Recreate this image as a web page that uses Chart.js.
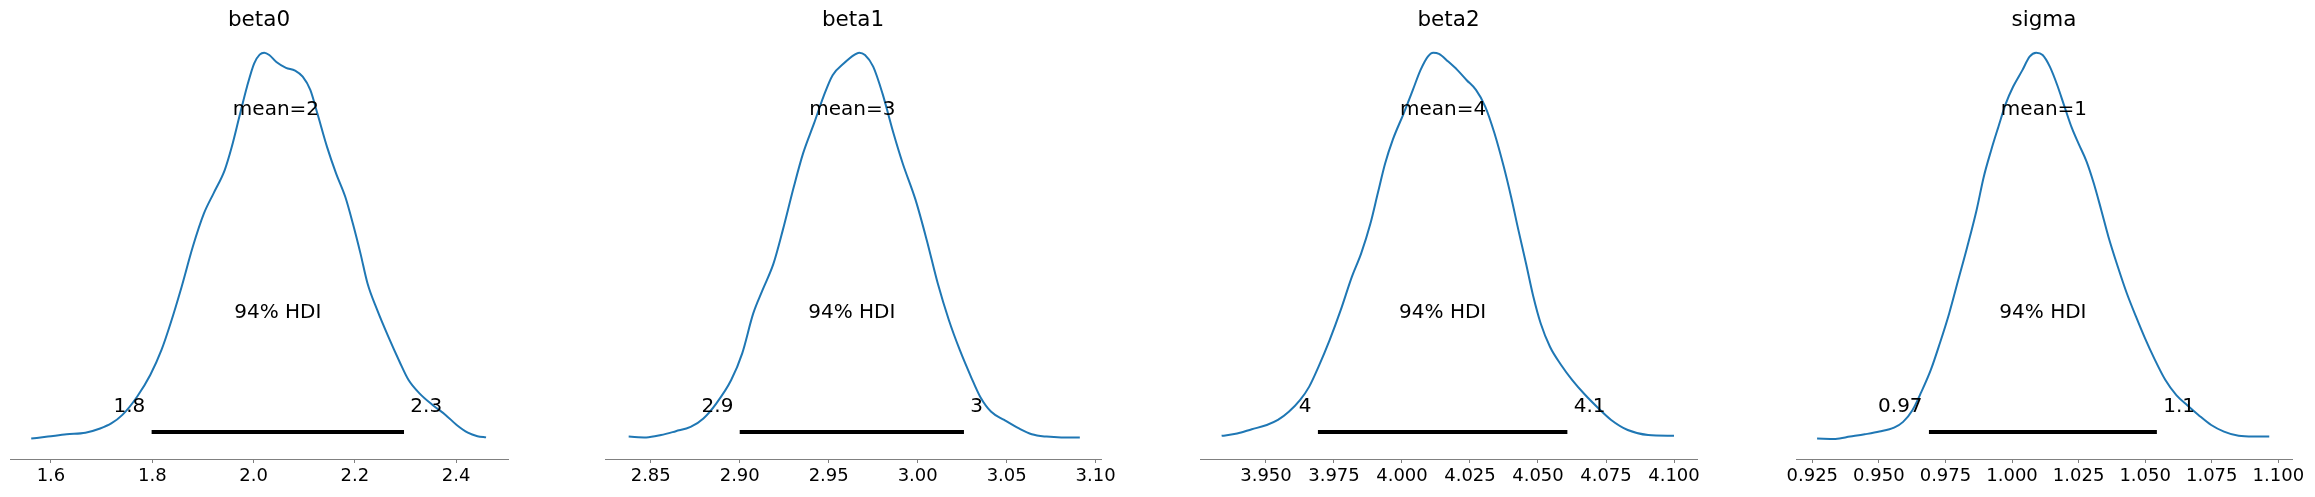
<!DOCTYPE html>
<html>
<head>
<meta charset="utf-8">
<script src="https://cdn.jsdelivr.net/npm/chart.js@4.4.0/dist/chart.umd.min.js"></script>
<style>
html,body{margin:0;padding:0;background:#fff;width:2315px;height:497px;overflow:hidden;position:relative}
canvas{position:absolute;top:0}
</style>
</head>
<body>
<canvas id="c0"></canvas>
<canvas id="c1"></canvas>
<canvas id="c2"></canvas>
<canvas id="c3"></canvas>
<script>
// ---------------- DATA ----------------
const titles = ['beta0', 'beta1', 'beta2', 'sigma'];

// KDE curves (density relative to the peak)
const beta0X = [1.561,1.594,1.631,1.668,1.697,1.719,1.741,1.770,1.796,1.818,1.836,1.858,1.880,1.902,1.921,1.943,1.957,1.972,1.987,2.001,2.012,2.021,2.031,2.045,2.064,2.082,2.097,2.112,2.126,2.145,2.163,2.181,2.196,2.211,2.225,2.244,2.266,2.288,2.306,2.328,2.354,2.379,2.401,2.423,2.442,2.459];
const beta0Y = [0.004,0.009,0.015,0.019,0.030,0.043,0.065,0.112,0.168,0.232,0.301,0.396,0.499,0.585,0.637,0.697,0.757,0.835,0.912,0.972,0.995,1.000,0.994,0.976,0.961,0.954,0.938,0.904,0.843,0.757,0.688,0.628,0.559,0.482,0.404,0.336,0.267,0.203,0.155,0.120,0.090,0.065,0.039,0.019,0.010,0.007];

const beta1X = [2.8376,2.8475,2.8558,2.8641,2.8724,2.8796,2.8869,2.8952,2.9014,2.9076,2.9128,2.9190,2.9242,2.9304,2.9356,2.9418,2.9470,2.9522,2.9584,2.9646,2.9671,2.9704,2.9750,2.9802,2.9864,2.9916,2.9988,3.0051,3.0113,3.0175,3.0237,3.0299,3.0351,3.0413,3.0486,3.0569,3.0641,3.0724,3.0807,3.0911];
const beta1Y = [0.009,0.007,0.013,0.023,0.034,0.056,0.095,0.155,0.224,0.327,0.387,0.456,0.542,0.654,0.740,0.818,0.886,0.942,0.972,0.995,1.000,0.994,0.964,0.895,0.792,0.714,0.620,0.516,0.404,0.310,0.232,0.164,0.112,0.073,0.052,0.030,0.015,0.009,0.007,0.007];

const beta2X = [3.9337,3.9394,3.9448,3.9503,3.9544,3.9584,3.9625,3.9659,3.9693,3.9734,3.9775,3.9816,3.9850,3.9884,3.9911,3.9938,3.9966,4.0006,4.0040,4.0068,4.0095,4.0115,4.0136,4.0170,4.0204,4.0238,4.0272,4.0306,4.0340,4.0374,4.0401,4.0428,4.0456,4.0483,4.0510,4.0544,4.0585,4.0626,4.0673,4.0721,4.0769,4.0830,4.0905,4.1000];
const beta2Y = [0.011,0.017,0.028,0.039,0.052,0.073,0.103,0.138,0.189,0.258,0.336,0.422,0.482,0.559,0.637,0.714,0.775,0.843,0.904,0.955,0.990,1.000,0.997,0.977,0.955,0.929,0.904,0.861,0.792,0.706,0.628,0.542,0.456,0.370,0.301,0.241,0.194,0.155,0.117,0.083,0.052,0.026,0.013,0.011];

const sigmaX = [0.9268,0.9337,0.9392,0.9447,0.9502,0.9557,0.9591,0.9626,0.9660,0.9695,0.9729,0.9764,0.9798,0.9832,0.9867,0.9894,0.9922,0.9949,0.9977,1.0004,1.0039,1.0066,1.0091,1.0115,1.0142,1.0170,1.0197,1.0225,1.0252,1.0280,1.0307,1.0335,1.0362,1.0397,1.0431,1.0466,1.0500,1.0534,1.0576,1.0617,1.0658,1.0700,1.0748,1.0796,1.0851,1.0906,1.0966];
const sigmaY = [0.004,0.003,0.009,0.015,0.022,0.032,0.047,0.077,0.125,0.181,0.250,0.327,0.413,0.499,0.594,0.680,0.749,0.809,0.869,0.912,0.955,0.990,1.000,0.994,0.964,0.916,0.861,0.805,0.762,0.719,0.663,0.594,0.525,0.448,0.379,0.318,0.262,0.211,0.155,0.116,0.090,0.065,0.039,0.022,0.011,0.009,0.009];

const meanValues = [2.0442, 2.9633, 4.0151, 1.0120];
const meanLabels = ['mean=2', 'mean=3', 'mean=4', 'mean=1'];
const hdiLow = [1.7987, 2.9000, 3.9691, 0.9688];
const hdiHigh = [2.2970, 3.0260, 4.0608, 1.0544];
const hdiLowLabels = ['1.8', '2.9', '4', '0.97'];
const hdiHighLabels = ['2.3', '3', '4.1', '1.1'];
const hdiText = '94% HDI';
const maxData = 1.049; // reference density used for annotation heights

const beta0Ticks = [1.6, 1.8, 2.0, 2.2, 2.4];
const beta0TickLabels = ['1.6', '1.8', '2.0', '2.2', '2.4'];
const beta1Ticks = [2.85, 2.90, 2.95, 3.00, 3.05, 3.10];
const beta1TickLabels = ['2.85', '2.90', '2.95', '3.00', '3.05', '3.10'];
const beta2Ticks = [3.950, 3.975, 4.000, 4.025, 4.050, 4.075, 4.100];
const beta2TickLabels = ['3.950', '3.975', '4.000', '4.025', '4.050', '4.075', '4.100'];
const sigmaTicks = [0.925, 0.950, 0.975, 1.000, 1.025, 1.050, 1.075, 1.100];
const sigmaTickLabels = ['0.925', '0.950', '0.975', '1.000', '1.025', '1.050', '1.075', '1.100'];

const xMins = [1.5191, 2.8243, 3.92575, 0.91888];
const xMaxs = [2.5023, 3.1030, 4.10845, 1.10514];

// ---------------- LAYOUT ----------------
const axisStart = [10, 605, 1200, 1796];
const axisEnd = [508, 1101, 1697, 2292];
const PAD = 40;
const H = 497;
const AXIS_H = 38;
const Y_MIN = -0.0488, Y_MAX = 1.136;
const FONT = '"DejaVu Sans", "Liberation Sans", sans-serif';

const curvesX = [beta0X, beta1X, beta2X, sigmaX];
const curvesY = [beta0Y, beta1Y, beta2Y, sigmaY];
const ticksV = [beta0Ticks, beta1Ticks, beta2Ticks, sigmaTicks];
const ticksL = [beta0TickLabels, beta1TickLabels, beta2TickLabels, sigmaTickLabels];

const annotPlugin = {
  id: 'annot',
  afterDatasetsDraw(chart) {
    const i = chart.options.plugins.annot.idx;
    const ctx = chart.ctx, xs = chart.scales.x, ys = chart.scales.y;
    const ca = chart.chartArea;
    ctx.save();
    ctx.fillStyle = '#000';
    ctx.textBaseline = 'alphabetic';
    // title
    ctx.font = '21.5px ' + FONT;
    ctx.textAlign = 'center';
    ctx.fillText(titles[i], (ca.left + ca.right) / 2, 26);
    ctx.font = '20px ' + FONT;
    // mean
    ctx.fillText(meanLabels[i], xs.getPixelForValue(meanValues[i]), ys.getPixelForValue(0.8 * maxData));
    // HDI text
    ctx.fillText(hdiText, xs.getPixelForValue((hdiLow[i] + hdiHigh[i]) / 2), ys.getPixelForValue(0.3 * maxData));
    const sp = ctx.measureText(' ').width;
    const yl = ys.getPixelForValue(0.07 * maxData);
    ctx.textAlign = 'right';
    ctx.fillText(hdiLowLabels[i], xs.getPixelForValue(hdiLow[i]) - sp, yl);
    ctx.textAlign = 'left';
    ctx.fillText(hdiHighLabels[i], xs.getPixelForValue(hdiHigh[i]) + sp, yl);
    ctx.restore();
  }
};

for (let i = 0; i < 4; i++) {
  const cv = document.getElementById('c' + i);
  const w = axisEnd[i] - axisStart[i] + 2 * PAD;
  cv.width = w; cv.height = H;
  cv.style.width = w + 'px'; cv.style.height = H + 'px';
  cv.style.left = (axisStart[i] - PAD) + 'px';
  const cx = curvesX[i], cy = curvesY[i];
  new Chart(cv, {
    type: 'scatter',
    data: {
      datasets: [
        {
          data: cx.map((x, k) => ({ x: x, y: cy[k] })),
          showLine: true, borderColor: '#1f77b4', borderWidth: 2,
          pointRadius: 0, cubicInterpolationMode: 'monotone', fill: false
        },
        {
          data: [{ x: hdiLow[i], y: 0.02 * maxData }, { x: hdiHigh[i], y: 0.02 * maxData }],
          showLine: true, borderColor: '#000', borderWidth: 4, borderCapStyle: 'butt',
          pointRadius: 0, fill: false
        }
      ]
    },
    options: {
      responsive: false, animation: false, devicePixelRatio: 1,
      layout: { padding: { left: PAD, right: PAD, top: 0, bottom: 0 } },
      plugins: { legend: { display: false }, tooltip: { enabled: false }, annot: { idx: i } },
      scales: {
        x: {
          type: 'linear', min: xMins[i], max: xMaxs[i],
          afterFit(s) { s.height = AXIS_H; },
          afterBuildTicks(s) { s.ticks = ticksV[i].map(v => ({ value: v })); },
          ticks: {
            autoSkip: false, maxRotation: 0, minRotation: 0, padding: 3, color: '#000',
            font: { family: FONT, size: 18 },
            callback: (v, idx) => ticksL[i][idx]
          },
          grid: { display: true, drawOnChartArea: false, drawTicks: true, tickLength: 4, color: '#808080', lineWidth: 1 },
          border: { display: true, color: '#808080', width: 1 }
        },
        y: { display: false, min: Y_MIN, max: Y_MAX }
      }
    },
    plugins: [annotPlugin]
  });
}
</script>
</body>
</html>
